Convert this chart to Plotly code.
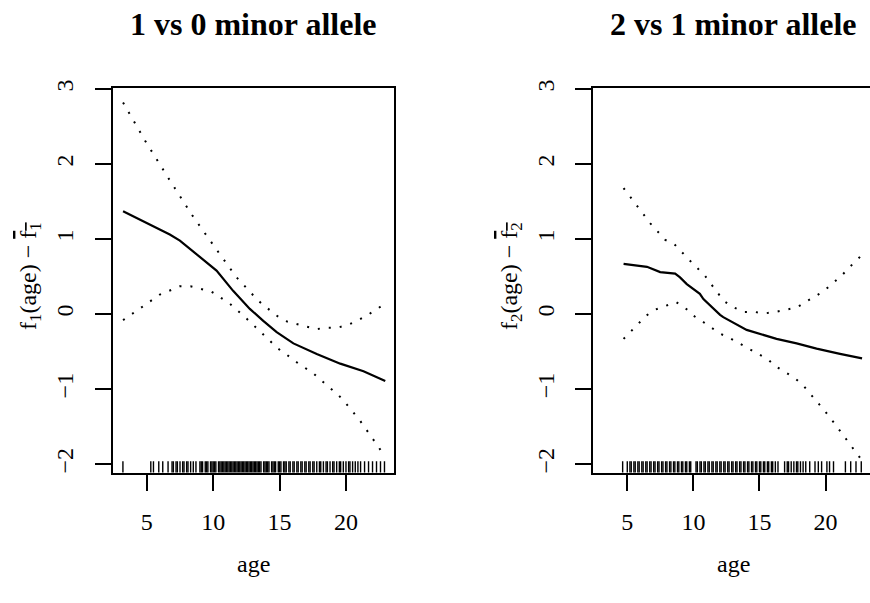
import plotly.graph_objects as go

# ---------------- data ----------------
# Panel 1: 1 vs 0 minor allele
fit1_x = [3.21, 5.23, 6.73, 7.49, 8.24, 9.0, 10.25, 11.5, 12.76, 13.77, 14.78, 16.04, 17.8, 19.57, 21.32, 22.96]
fit1_y = [1.37, 1.19, 1.06, 0.98, 0.87, 0.76, 0.58, 0.31, 0.07, -0.09, -0.24, -0.39, -0.53, -0.66, -0.76, -0.89]

up1_x = [3.21, 4.87, 6.6, 8.37, 10.25, 11.76, 13.39, 14.7, 15.4, 16.19, 16.97, 17.74, 18.58, 19.38, 20.19, 20.94, 21.65, 22.36, 22.96]
up1_y = [2.82, 2.31, 1.82, 1.33, 0.86, 0.49, 0.18, -0.01, -0.09, -0.13, -0.17, -0.20, -0.18, -0.18, -0.14, -0.08, -0.01, 0.07, 0.14]

lo1_x = [3.21, 4.6, 5.98, 7.49, 8.29, 9.87, 11.25, 12.46, 13.06, 13.7, 14.3, 14.89, 15.54, 16.19, 16.87, 17.55,
         18.18, 18.81, 19.44, 20.0, 20.53, 21.02, 21.5, 21.98, 22.43, 22.96]
lo1_y = [-0.08, 0.09, 0.26, 0.37, 0.37, 0.30, 0.14, -0.05, -0.15, -0.25, -0.35, -0.46, -0.54, -0.63, -0.71, -0.79,
         -0.89, -0.98, -1.08, -1.19, -1.30, -1.41, -1.53, -1.65, -1.77, -1.90]

rug1 = [3.2, 5.3, 5.5, 5.9, 6.2, 6.6, 6.9, 7.0, 7.2, 7.3, 7.5, 7.7, 7.8, 8.0, 8.1, 8.3, 8.5, 8.7, 9.0, 9.1,
        9.2, 9.4, 9.5, 9.6, 9.8, 9.9, 10.0, 10.1, 10.2, 10.4, 10.5, 10.6, 10.7, 10.8, 10.9, 11.0, 11.1, 11.2,
        11.3, 11.4, 11.5, 11.6, 11.7, 11.8, 11.9, 12.0, 12.1, 12.2, 12.3, 12.4, 12.5, 12.6, 12.7, 12.8, 12.9,
        13.0, 13.1, 13.2, 13.3, 13.4, 13.5, 13.6, 13.8, 13.9, 14.0, 14.1, 14.2, 14.4, 14.5, 14.6, 14.7, 14.9,
        15.0, 15.1, 15.3, 15.4, 15.5, 15.7, 15.8, 16.0, 16.1, 16.3, 16.4, 16.6, 16.7, 16.9, 17.0, 17.2, 17.3,
        17.5, 17.6, 17.8, 18.0, 18.1, 18.3, 18.5, 18.6, 18.8, 19.0, 19.1, 19.3, 19.5, 19.6, 19.8, 20.0, 20.2,
        20.3, 20.5, 20.7, 20.9, 21.1, 21.4, 21.7, 22.0, 22.3, 22.6, 22.9]

# Panel 2: 2 vs 1 minor allele
fit2_x = [4.72, 6.49, 7.49, 8.62, 8.99, 9.5, 10.49, 10.76, 12.02, 12.26, 14.03, 15.54, 16.29, 17.81, 19.32, 21.09, 22.76]
fit2_y = [0.67, 0.63, 0.56, 0.54, 0.49, 0.40, 0.27, 0.20, -0.01, -0.04, -0.21, -0.29, -0.33, -0.39, -0.46, -0.53, -0.59]

up2_x = [4.72, 5.73, 6.74, 7.87, 8.57, 9.70, 10.84, 11.85, 12.35, 13.05, 13.8, 14.6, 15.41, 16.24, 17.04, 17.85,
         18.55, 19.26, 19.94, 20.57, 21.2, 21.78, 22.38, 22.76]
up2_y = [1.68, 1.44, 1.21, 0.99, 0.93, 0.72, 0.52, 0.28, 0.17, 0.09, 0.03, 0.03, 0.01, 0.03, 0.06, 0.09,
         0.17, 0.24, 0.32, 0.42, 0.51, 0.62, 0.72, 0.79]

lo2_x = [4.72, 5.3, 5.85, 6.43, 7.11, 7.92, 8.7, 9.4, 10.0, 10.71, 11.39, 12.02, 12.77, 13.48, 14.16, 14.91, 15.62,
         16.27, 16.96, 17.65, 18.26, 18.81, 19.36, 19.89, 20.39, 20.9, 21.37, 21.85, 22.33, 22.76]
lo2_y = [-0.33, -0.22, -0.12, -0.02, 0.06, 0.11, 0.16, 0.08, -0.02, -0.10, -0.18, -0.26, -0.32, -0.39, -0.46, -0.54, -0.60,
         -0.70, -0.77, -0.85, -0.94, -1.05, -1.16, -1.28, -1.39, -1.51, -1.62, -1.74, -1.86, -1.95]

rug2 = [4.65, 5.0, 5.2, 5.3, 5.5, 5.6, 5.8, 5.9, 6.1, 6.2, 6.4, 6.5, 6.7, 6.8, 7.0, 7.1, 7.3, 7.4, 7.6, 7.7, 7.9,
        8.0, 8.2, 8.3, 8.5, 8.6, 8.8, 8.9, 9.1, 9.2, 9.4, 9.5, 9.7, 9.8, 10.2, 10.3, 10.5, 10.6, 10.8, 10.9, 11.1,
        11.2, 11.4, 11.5, 11.7, 11.8, 12.0, 12.1, 12.3, 12.4, 12.6, 12.7, 12.9, 13.0, 13.2, 13.3, 13.5, 13.6, 13.8,
        13.9, 14.1, 14.2, 14.4, 14.5, 14.7, 14.8, 15.0, 15.1, 15.3, 15.4, 15.6, 15.7, 15.9, 16.0, 16.2, 16.4, 16.9,
        17.1, 17.2, 17.4, 17.6, 17.8, 17.9, 18.1, 18.3, 18.5, 18.8, 19.2, 19.45, 19.7, 20.1, 20.3, 20.6, 21.5, 21.9,
        22.3, 22.7]

titles = ["1 vs 0 minor allele", "2 vs 1 minor allele"]
x_ticks = [5, 10, 15, 20]
y_ticks = [-2, -1, 0, 1, 2, 3]
y_tick_text = ["\u22122", "\u22121", "0", "1", "2", "3"]
x_label = "age"
y_labels = [
    "f<sub>1</sub>(age) \u2212 <span style='text-decoration:overline'>f<sub>1</sub></span>",
    "f<sub>2</sub>(age) \u2212 <span style='text-decoration:overline'>f<sub>2</sub></span>",
]

# ---------------- layout geometry ----------------
W, H = 870, 603
FONT = "Times New Roman"
XR1 = [2.43, 23.64]
XR2 = [2.43, 23.36]
YR = [-2.11, 3.013]
dom_x1 = [112.7 / W, 394.3 / W]
dom_x2 = [593.3 / W, 1.0]
dom_y = [1 - 472.5 / H, 1 - 88 / H]

fig = go.Figure()

def add_panel(xs, ys, ups, los, rug, xa, ya):
    fig.add_trace(go.Scatter(x=rug, y=[YR[0]] * len(rug), mode="markers", xaxis=xa, yaxis=ya,
                             marker=dict(symbol="line-ns", size=16, line=dict(width=1.4, color="black")),
                             showlegend=False, hoverinfo="skip"))
    fig.add_trace(go.Scatter(x=ups[0], y=ups[1], mode="lines", xaxis=xa, yaxis=ya,
                             line=dict(color="black", width=2, dash="2px,9px"), showlegend=False))
    fig.add_trace(go.Scatter(x=los[0], y=los[1], mode="lines", xaxis=xa, yaxis=ya,
                             line=dict(color="black", width=2, dash="2px,9px"), showlegend=False))
    fig.add_trace(go.Scatter(x=xs, y=ys, mode="lines", xaxis=xa, yaxis=ya,
                             line=dict(color="black", width=2.2), showlegend=False))

add_panel(fit1_x, fit1_y, (up1_x, up1_y), (lo1_x, lo1_y), rug1, "x", "y")
add_panel(fit2_x, fit2_y, (up2_x, up2_y), (lo2_x, lo2_y), rug2, "x2", "y2")

tick_font = dict(family=FONT, size=24, color="black")
axis_common = dict(showgrid=False, zeroline=False, showline=True, linecolor="black", linewidth=2,
                   ticks="outside", ticklen=16, tickwidth=2, tickcolor="black",
                   tickfont=tick_font, automargin=False)

fig.update_layout(
    width=W, height=H,
    margin=dict(l=0, r=0, t=0, b=0),
    paper_bgcolor="white", plot_bgcolor="white",
    font=dict(family=FONT, color="black", size=24),
    xaxis=dict(domain=dom_x1, range=XR1, tickvals=x_ticks, anchor="y", mirror=True,
               ticklabelstandoff=11, **axis_common),
    yaxis=dict(domain=dom_y, range=YR, tickvals=y_ticks, ticktext=y_tick_text, anchor="x", mirror=True,
               tickangle=-90, ticklabelstandoff=12, **axis_common),
    xaxis2=dict(domain=dom_x2, range=XR2, tickvals=x_ticks, anchor="y2", mirror=True,
                ticklabelstandoff=11, **axis_common),
    yaxis2=dict(domain=dom_y, range=YR, tickvals=y_ticks, ticktext=y_tick_text, anchor="x2", mirror=False,
                tickangle=-90, ticklabelstandoff=12, **axis_common),
)

centers = [(dom_x1[0] + dom_x1[1]) / 2, (593.3 + 280.4 / 2) / W]
ylab_x = [30 / W, 511 / W]
for i in range(2):
    fig.add_annotation(text="<b>" + titles[i] + "</b>", xref="paper", yref="paper",
                       x=centers[i], y=1 - 24 / H, showarrow=False, xanchor="center", yanchor="middle",
                       font=dict(family=FONT, size=32, color="black"))
    fig.add_annotation(text=x_label, xref="paper", yref="paper",
                       x=centers[i], y=1 - 564 / H, showarrow=False, xanchor="center", yanchor="middle",
                       font=dict(family=FONT, size=24, color="black"))
    fig.add_annotation(text=y_labels[i], xref="paper", yref="paper", textangle=-90,
                       x=ylab_x[i], y=1 - 276 / H, showarrow=False, xanchor="center", yanchor="middle",
                       font=dict(family=FONT, size=24, color="black"))

fig.write_html("out.html", config={"displayModeBar": False},
               post_script="document.body.style.margin='0';document.body.style.overflow='hidden';")
